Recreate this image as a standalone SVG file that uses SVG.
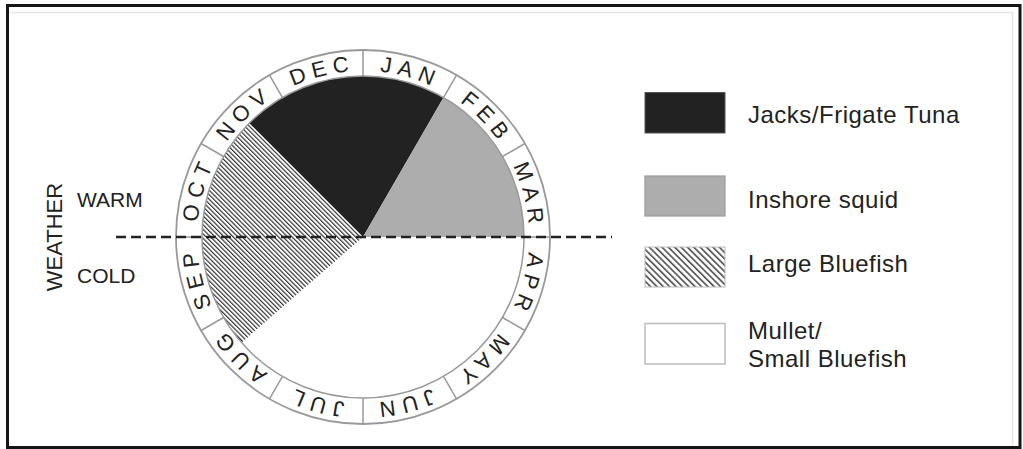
<svg xmlns="http://www.w3.org/2000/svg" width="1023" height="449" viewBox="0 0 1023 449">
<style>
text{font-family:"Liberation Sans",Arial,sans-serif;fill:#222}
.mon{font-size:22px;letter-spacing:6px}
.leg{font-size:24px;letter-spacing:0.5px}
.wx{font-size:21px}
.ring{fill:none;stroke:#999;stroke-width:1.5}
</style>
<defs>
<pattern id="hatchPie" patternUnits="userSpaceOnUse" width="3.2" height="10" patternTransform="rotate(-45)">
<rect width="3.2" height="10" fill="#fff"/>
<line x1="0.6" y1="0" x2="0.6" y2="10" stroke="#222" stroke-width="1.1"/>
</pattern>
<pattern id="hatchLeg" patternUnits="userSpaceOnUse" width="4.5" height="10" patternTransform="rotate(-45)">
<rect width="4.5" height="10" fill="#fff"/>
<line x1="0.8" y1="0" x2="0.8" y2="10" stroke="#333" stroke-width="1.4"/>
</pattern>
<path id="mpath" d="M363,71 A166,166 0 1,1 363,403 A166,166 0 1,1 363,71"/>
</defs>
<rect x="0" y="0" width="1023" height="449" fill="#fff"/>
<polyline points="10,12.5 1012.5,12.5 1012.5,446" fill="none" stroke="#e6e6e6" stroke-width="1.5"/>
<rect x="7.5" y="5.5" width="1012.5" height="442" fill="none" stroke="#151515" stroke-width="3"/>

<g id="wheel">
<circle cx="363" cy="237" r="187" fill="#fff" stroke="#999" stroke-width="1.8"/>
<path d="M363,237 L249.16,123.16 A161,161 0 0,1 443.5,97.57 Z" fill="#222"/>
<path d="M363,237 L443.5,97.57 A161,161 0 0,1 524,237 Z" fill="#adadad"/>
<path d="M363,237 L524,237 A161,161 0 0,1 241.5,342.63 Z" fill="#fff"/>
<path d="M363,237 L241.5,342.63 A161,161 0 0,1 249.16,123.16 Z" fill="url(#hatchPie)"/>
<circle cx="363" cy="237" r="161" class="ring"/>
<g stroke="#999" stroke-width="1.5">
<line x1="363" y1="76" x2="363" y2="50"/>
<line x1="443.5" y1="97.57" x2="456.5" y2="75.05"/>
<line x1="502.43" y1="156.5" x2="524.94" y2="143.5"/>
<line x1="524" y1="237" x2="550" y2="237"/>
<line x1="502.43" y1="317.5" x2="524.94" y2="330.5"/>
<line x1="443.5" y1="376.43" x2="456.5" y2="398.95"/>
<line x1="363" y1="398" x2="363" y2="424"/>
<line x1="282.5" y1="376.43" x2="269.5" y2="398.95"/>
<line x1="223.57" y1="317.5" x2="201.06" y2="330.5"/>
<line x1="202" y1="237" x2="176" y2="237"/>
<line x1="223.57" y1="156.5" x2="201.06" y2="143.5"/>
<line x1="282.5" y1="97.57" x2="269.5" y2="75.05"/>
</g>
<text class="mon" text-anchor="middle"><textPath href="#mpath" startOffset="46.5">JAN</textPath></text>
<text class="mon" text-anchor="middle"><textPath href="#mpath" startOffset="133.4">FEB</textPath></text>
<text class="mon" text-anchor="middle"><textPath href="#mpath" startOffset="220.3">MAR</textPath></text>
<text class="mon" text-anchor="middle"><textPath href="#mpath" startOffset="307.2">APR</textPath></text>
<text class="mon" text-anchor="middle"><textPath href="#mpath" startOffset="394.1">MAY</textPath></text>
<text class="mon" text-anchor="middle"><textPath href="#mpath" startOffset="481.1">JUN</textPath></text>
<text class="mon" text-anchor="middle"><textPath href="#mpath" startOffset="568.0">JUL</textPath></text>
<text class="mon" text-anchor="middle"><textPath href="#mpath" startOffset="654.9">AUG</textPath></text>
<text class="mon" text-anchor="middle"><textPath href="#mpath" startOffset="741.8">SEP</textPath></text>
<text class="mon" text-anchor="middle"><textPath href="#mpath" startOffset="828.7">OCT</textPath></text>
<text class="mon" text-anchor="middle"><textPath href="#mpath" startOffset="915.7">NOV</textPath></text>
<text class="mon" text-anchor="middle"><textPath href="#mpath" startOffset="1002.6">DEC</textPath></text>
</g>

<g id="weather">
<line x1="116" y1="237" x2="612" y2="237" stroke="#222" stroke-width="2.5" stroke-dasharray="10 5"/>
<text x="61.5" y="237" font-size="22" text-anchor="middle" transform="rotate(-90 61.5 237)">WEATHER</text>
<text class="wx" x="77" y="207">WARM</text>
<text class="wx" x="77" y="283">COLD</text>
</g>

<g id="legend-jacks">
<rect x="645" y="92.5" width="80" height="40.5" fill="#222" stroke="#555" stroke-width="1"/>
<text class="leg" x="748" y="123">Jacks/Frigate Tuna</text>
</g>
<g id="legend-squid">
<rect x="645" y="176" width="80" height="40" fill="#adadad" stroke="#999" stroke-width="1.2"/>
<text class="leg" x="748" y="208">Inshore squid</text>
</g>
<g id="legend-bluefish">
<rect x="645" y="247" width="80" height="40" fill="url(#hatchLeg)" stroke="#bbb" stroke-width="1"/>
<text class="leg" x="748" y="272">Large Bluefish</text>
</g>
<g id="legend-mullet">
<rect x="645" y="323.5" width="80" height="40.5" fill="#fff" stroke="#bbb" stroke-width="1.5"/>
<text class="leg" x="748" y="339">Mullet/</text>
<text class="leg" x="748" y="367">Small Bluefish</text>
</g>
</svg>
